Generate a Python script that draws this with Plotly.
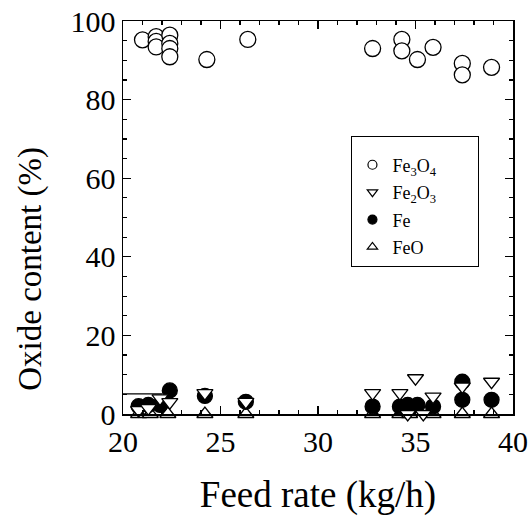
import plotly.graph_objects as go

# ---- data ----
fe3o4_x = [21.0, 21.7, 21.7, 21.7, 22.4, 22.4, 22.4, 22.4, 24.3, 26.4,
           32.8, 34.3, 34.3, 35.1, 35.9, 37.4, 37.4, 38.9]
fe3o4_y = [95.2, 96.0, 94.8, 93.4, 96.4, 94.3, 93.0, 90.9, 90.2, 95.3,
           93.0, 95.3, 92.4, 90.2, 93.3, 89.2, 86.3, 88.2]

fe_x = [20.8, 21.3, 21.9, 22.4, 24.2, 26.3, 32.8, 34.2, 34.6, 35.1, 35.9, 37.4, 37.4, 38.9]
fe_y = [2.0, 2.3, 2.3, 6.0, 4.6, 3.1, 1.9, 1.9, 2.3, 2.3, 1.9, 8.2, 3.6, 3.6]

fe2o3_x = [20.8, 21.3, 21.9, 22.4, 24.2, 26.3, 32.8, 34.2, 34.6, 35.0, 35.4, 35.9, 37.4, 38.9]
fe2o3_y = [1.0, 1.5, 4.0, 3.0, 5.3, 3.1, 5.3, 5.3, 0.0, 9.1, 0.0, 4.4, 7.0, 8.2]

feo_x = [20.8, 21.4, 22.3, 24.2, 26.3, 32.8, 34.2, 34.7, 35.9, 37.4, 38.9]
feo_y = [0, 0, 0, 0, 0, 0, 0, 0, 0, 0, 0]

x_ticks = [20, 25, 30, 35, 40]
y_ticks = [0, 20, 40, 60, 80, 100]

names = ["Fe<sub>3</sub>O<sub>4</sub>", "Fe<sub>2</sub>O<sub>3</sub>", "Fe", "FeO"]
x_title = "Feed rate (kg/h)"
y_title = "Oxide content (%)"

FONT = "Liberation Serif, Times New Roman, serif"
LW = 1.3

fig = go.Figure()

# plotted markers (no legend)
fig.add_trace(go.Scatter(x=fe3o4_x, y=fe3o4_y, mode="markers", showlegend=False,
                         cliponaxis=False, hoverinfo="skip",
                         marker=dict(symbol="circle", size=16, color="white",
                                     line=dict(color="black", width=LW))))
fig.add_trace(go.Scatter(x=feo_x, y=feo_y, mode="markers", showlegend=False,
                         cliponaxis=False, hoverinfo="skip",
                         marker=dict(symbol="triangle-up", size=14, color="white",
                                     line=dict(color="black", width=LW))))
fig.add_trace(go.Scatter(x=fe_x, y=fe_y, mode="markers", showlegend=False,
                         cliponaxis=False, hoverinfo="skip",
                         marker=dict(symbol="circle", size=15, color="black",
                                     line=dict(color="black", width=LW))))
fig.add_trace(go.Scatter(x=fe2o3_x, y=fe2o3_y, mode="markers", showlegend=False,
                         cliponaxis=False, hoverinfo="skip",
                         marker=dict(symbol="triangle-down", size=14, color="white",
                                     line=dict(color="black", width=LW))))

# legend entries (small symbols, as in the reference)
leg_syms = [("circle", "white"), ("triangle-down", "white"), ("circle", "black"), ("triangle-up", "white")]
for i, (nm, (sym, col)) in enumerate(zip(names, leg_syms)):
    fig.add_trace(go.Scatter(x=[None], y=[None], mode="markers", name=nm + "\u00a0" * 8,
                             legendgroup=f"g{i}",
                             marker=dict(symbol=sym, size=9, color=col,
                                         line=dict(color="black", width=1.2))))

# small horizontal stroke near the lower-left corner of the reference
fig.add_shape(type="line", x0=20, x1=22.0, y0=5.1, y1=5.1, xref="x", yref="y",
              line=dict(color="black", width=1.2))

# y-axis title (placed as in the reference, slightly below the axis centre)
fig.add_annotation(text=y_title, textangle=-90, xref="paper", yref="paper",
                   x=-0.238, y=0.37, xanchor="center", yanchor="middle", showarrow=False,
                   font=dict(family=FONT, size=33, color="black"))

axis_common = dict(showgrid=False, zeroline=False, showline=True, mirror="ticks",
                   linecolor="black", linewidth=1.5, ticks="inside",
                   tickcolor="black", tickwidth=1.3, ticklen=8, automargin=False,
                   tickfont=dict(family=FONT, size=30, color="black"))

fig.update_xaxes(range=[20, 40], tickvals=x_ticks, ticktext=[str(v) for v in x_ticks],
                 minor=dict(dtick=1, ticks="inside", ticklen=4, tickcolor="black", tickwidth=1.2),
                 title=dict(text=x_title, font=dict(family=FONT, size=37, color="black"),
                            standoff=24),
                 **axis_common)
fig.update_yaxes(range=[0, 100], tickvals=y_ticks, ticktext=[str(v) for v in y_ticks],
                 minor=dict(dtick=5, ticks="inside", ticklen=4, tickcolor="black", tickwidth=1.2),
                 **axis_common)

fig.update_layout(
    template="none",
    width=531, height=518,
    margin=dict(l=123, r=18, t=21, b=104),
    paper_bgcolor="white", plot_bgcolor="white",
    font=dict(family=FONT, color="black"),
    hovermode=False,
    legend=dict(x=0.585, y=0.707, xanchor="left", yanchor="top",
                bgcolor="white", bordercolor="black", borderwidth=1.3,
                font=dict(family=FONT, size=18, color="black"),
                title=dict(text="\u00a0", font=dict(family=FONT, size=7)),
                tracegroupgap=1, itemwidth=30),
)

fig.write_html("out.html", config={"displayModeBar": False, "staticPlot": True},
               post_script="document.body.style.margin='0';document.body.style.overflow='hidden';")
